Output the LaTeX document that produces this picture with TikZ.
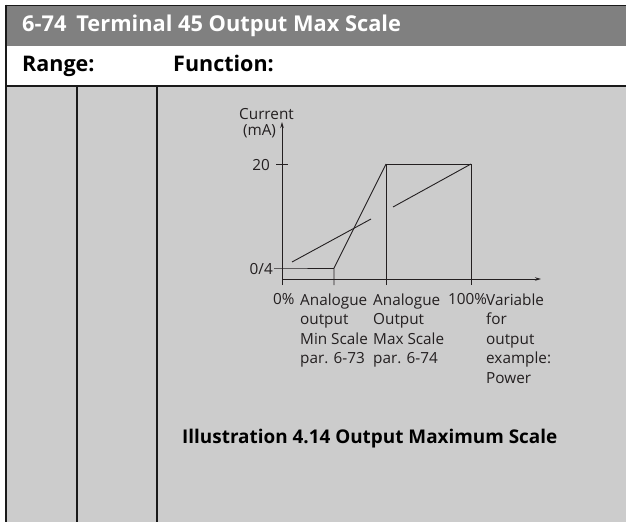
\documentclass[tikz,border=0pt]{standalone}
\usepackage{fontspec}
\setmainfont{Open Sans}
\newfontfamily\hdrfont{Open Sans}
\usetikzlibrary{arrows.meta}
\definecolor{hdrgray}{HTML}{808080}
\definecolor{bodygray}{HTML}{CCCCCC}
\definecolor{ink}{HTML}{231F20}
\definecolor{rule}{HTML}{1A1A1A}
\tikzset{
  frame/.style={draw=rule,line width=1.6pt},
  hdrtext/.style={inner sep=0pt,anchor=base west,text=white,font=\hdrfont\bfseries\fontsize{21.8}{26}\selectfont},
  rowtext/.style={inner sep=0pt,anchor=base west,text=black,font=\hdrfont\bfseries\fontsize{21.5}{26}\selectfont},
  captext/.style={inner sep=0pt,anchor=base west,text=black,font=\hdrfont\bfseries\fontsize{18.9}{22}\selectfont},
  axislabel/.style={inner sep=0pt,text=ink,font=\fontsize{15.3}{19.5}\selectfont},
  lbl/.style={inner sep=0pt,anchor=north west,align=left,text=ink,font=\fontsize{15.3}{19.5}\selectfont},
  plot/.style={draw=ink,line width=0.9pt},
  axis/.style={draw=ink,line width=0.9pt,-{Stealth[length=6pt,width=3.5pt]}}
}
\begin{document}
\begin{tikzpicture}[x=1pt,y=-1pt]
\useasboundingbox (0,0) rectangle (626,522);
% backgrounds
\fill[hdrgray] (6,5) rectangle (626,46);
\fill[white] (6,46) rectangle (626,86);
\fill[bodygray] (6,86) rectangle (626,522);
% frame lines
\draw[draw=rule,line width=1pt] (6,5) -- (626,5);
\draw[frame] (6,86) -- (626,86);
\draw[frame] (6,4.5) -- (6,522);
\draw[frame] (77,86) -- (77,522);
\draw[frame] (157,86) -- (157,522);
% header texts
\node[hdrtext] (title) at (22,31.5) {6-74\hspace{0.45em}Terminal 45 Output Max Scale};
\node[rowtext] (range) at (22,71) {Range:};
\node[rowtext] (func) at (173,71) {Function:};
% chart coordinates
\coordinate (O) at (282,279);
\coordinate (ytop) at (282,122);
\coordinate (xend) at (541,279);
\coordinate (ybot) at (282,285);
\coordinate (p0) at (282,268);
\coordinate (p1) at (334,268);
\coordinate (p1b) at (334,285);
\coordinate (p2) at (386,164);
\coordinate (p2b) at (386,285);
\coordinate (p3) at (471,164);
\coordinate (p3b) at (471,285);
\coordinate (q1) at (393,207);
\coordinate (r0) at (292,262);
\coordinate (r1) at (371,219);
\coordinate (t20a) at (276,164);
\coordinate (t20b) at (288,164);
\coordinate (t4a) at (274,268);
% axes
\draw[axis] (ybot) -- (ytop);
\draw[axis] (O) -- (xend);
% ticks and curves
\draw[plot] (t20a) -- (t20b);
\draw[plot] (t4a) -- (p0) -- (p1);
\draw[plot] (p1b) -- (p1) -- (p2);
\draw[plot] (p2b) -- (p2) -- (p3) -- (p3b);
\draw[plot] (p3) -- (q1);
\draw[plot] (r0) -- (r1);
% axis labels
\node[axislabel,anchor=base] (cur) at (266.5,119) {Current};
\node[axislabel,anchor=base] (ma) at (259.5,135) {(mA)};
\node[axislabel,anchor=base east] (l20) at (270,170.5) {20};
\node[axislabel,anchor=base east] (l4) at (273,274.5) {0/4};
% x labels
\node[lbl] (l0) at (273,293.5) {0\%};
\node[lbl] (lmin) at (300,293.5) {Analogue\\output\\Min Scale\\par. 6-73};
\node[lbl] (lmax) at (373,293.5) {Analogue\\Output\\Max Scale\\par. 6-74};
\node[lbl] (l100) at (448,293.5) {100\%};
\node[lbl] (lvar) at (486,293.5) {Variable\\for\\output\\example:\\Power};
% caption
\node[captext] (cap) at (182,443) {Illustration 4.14 Output Maximum Scale};
\end{tikzpicture}
\end{document}
